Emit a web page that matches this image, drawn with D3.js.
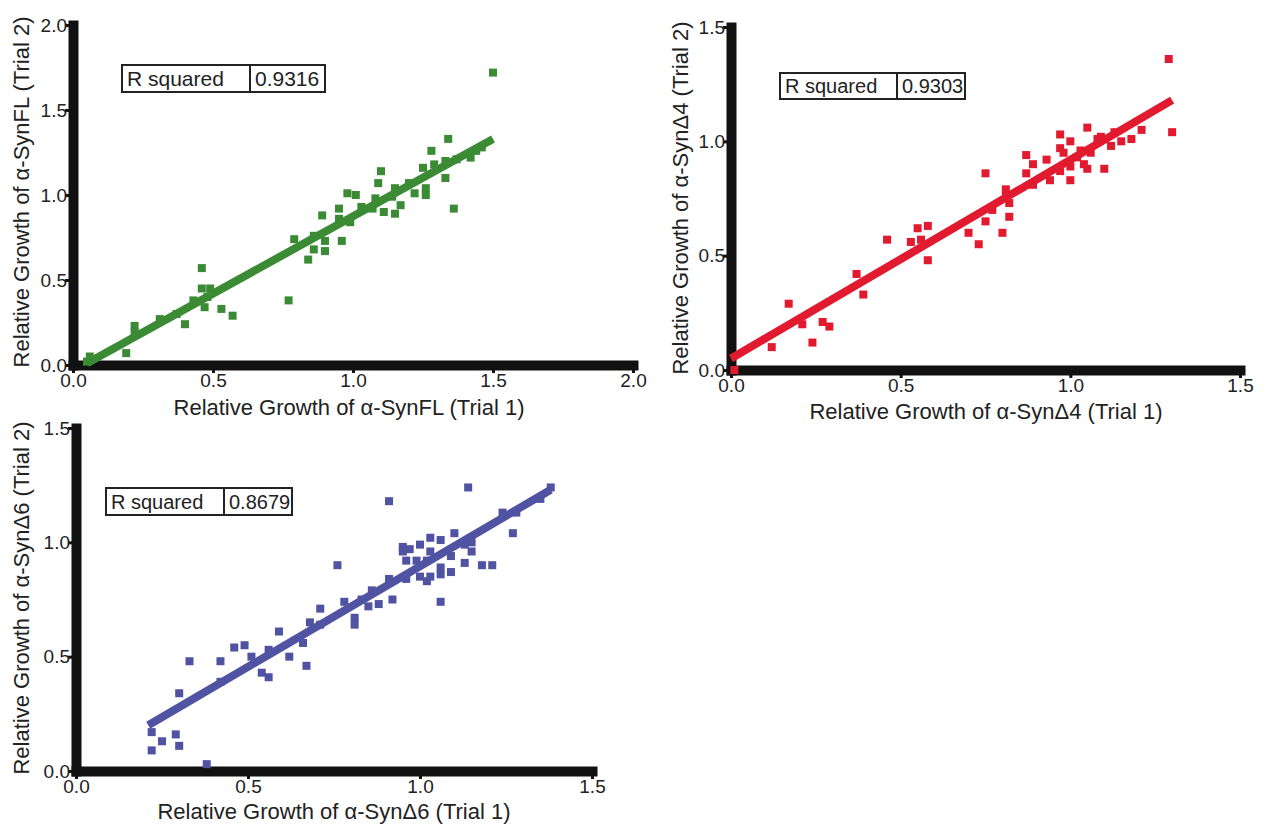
<!DOCTYPE html>
<html>
<head>
<meta charset="utf-8">
<script src="https://cdn.jsdelivr.net/npm/d3@7"></script>
<style>
  html, body { margin: 0; padding: 0; background: #fff; }
  svg { display: block; font-family: "Liberation Sans", Arial, sans-serif; }
</style>
</head>
<body>
<svg id="chart" width="1265" height="826"></svg>
<script>
// ---------- DATA ----------
const ticksFL = [0, 0.5, 1.0, 1.5, 2.0];
const ticksD = [0, 0.5, 1.0, 1.5];

const flX = [1.50,1.34,1.28,1.10,1.33,1.09,0.98,1.01,1.22,1.26,1.36,1.26,0.95,0.89,1.11,1.15,1.17,1.07,1.03,0.99,0.96,0.90,0.90,0.86,0.84,0.79,0.77,0.46,0.46,0.49,0.47,0.53,0.57,0.43,0.40,0.37,0.31,0.22,0.22,0.19,0.06,0.05,1.15,1.20,1.25,1.29,1.33,1.37,1.42,1.44,1.46,1.08,1.14,0.95,0.86,0.48];
const flY = [1.72,1.33,1.26,1.14,1.10,1.07,1.01,1.00,1.01,1.00,0.92,1.04,0.92,0.88,0.90,0.89,0.94,0.92,0.93,0.84,0.73,0.73,0.67,0.68,0.62,0.74,0.38,0.57,0.45,0.45,0.34,0.33,0.29,0.38,0.24,0.30,0.27,0.23,0.19,0.07,0.05,0.02,1.04,1.07,1.16,1.18,1.20,1.21,1.22,1.26,1.28,0.98,0.99,0.86,0.76,0.40];
const flFitX = [0.05, 1.50];
const flFitY = [0.01, 1.33];
const flR2 = "0.9316";

const d4X = [1.29,1.30,1.21,1.18,1.15,1.12,1.10,1.05,1.05,0.97,0.97,1.00,1.00,1.00,0.97,0.94,0.93,0.89,0.87,0.87,0.89,0.75,0.81,0.82,0.82,0.80,0.75,0.70,0.73,0.58,0.55,0.53,0.56,0.58,0.46,0.37,0.39,0.17,0.21,0.27,0.29,0.24,0.12,0.01,1.08,1.09,1.13,1.03,1.06,1.02,1.04,0.98,0.77,0.81];
const d4Y = [1.36,1.04,1.05,1.01,1.00,0.98,0.88,1.06,0.88,1.03,0.97,1.00,0.83,0.89,0.87,0.83,0.92,0.90,0.94,0.86,0.81,0.86,0.79,0.73,0.67,0.60,0.65,0.60,0.55,0.63,0.62,0.56,0.57,0.48,0.57,0.42,0.33,0.29,0.20,0.21,0.19,0.12,0.10,0.00,1.01,1.02,1.04,0.96,0.95,0.93,0.90,0.95,0.70,0.76];
const d4FitX = [0.00, 1.30];
const d4FitY = [0.05, 1.18];
const d4R2 = "0.9303";

const d6X = [1.14,0.91,1.38,1.35,1.28,1.24,1.27,1.10,1.21,1.18,1.13,1.15,1.15,1.13,1.09,1.06,1.06,1.06,1.09,1.06,1.03,1.00,0.97,0.95,0.95,0.96,0.99,1.03,1.03,1.02,1.00,0.96,0.91,0.92,0.88,0.86,0.85,0.83,0.78,0.76,0.81,0.81,0.71,0.68,0.71,0.66,0.67,0.59,0.62,0.56,0.51,0.49,0.46,0.54,0.56,0.42,0.33,0.42,0.30,0.22,0.22,0.25,0.29,0.30,0.38,1.02];
const d6Y = [1.24,1.18,1.24,1.19,1.13,1.13,1.04,1.04,0.90,0.90,0.91,0.96,1.00,0.99,0.87,0.89,0.86,0.74,0.94,1.01,1.02,0.99,0.97,0.98,0.96,0.92,0.92,0.96,0.85,0.83,0.85,0.84,0.84,0.75,0.73,0.79,0.72,0.75,0.74,0.90,0.67,0.64,0.71,0.65,0.64,0.56,0.46,0.61,0.50,0.53,0.50,0.55,0.54,0.43,0.41,0.48,0.48,0.39,0.34,0.17,0.09,0.13,0.16,0.11,0.03,0.92];
const d6FitX = [0.21, 1.38];
const d6FitY = [0.20, 1.23];
const d6R2 = "0.8679";

const xTitles = ["Relative Growth of \u03b1-SynFL (Trial 1)", "Relative Growth of \u03b1-Syn\u03944 (Trial 1)", "Relative Growth of \u03b1-Syn\u03946 (Trial 1)"];
const yTitles = ["Relative Growth of \u03b1-SynFL (Trial 2)", "Relative Growth of \u03b1-Syn\u03944 (Trial 2)", "Relative Growth of \u03b1-Syn\u03946 (Trial 2)"];

// ---------- LAYOUT ----------
const panels = [
  { xs: flX, ys: flY, fx: flFitX, fy: flFitY, r2: flR2, ticks: ticksFL, max: 2.0,
    color: "#3b8b35", xr: [73, 633], yr: [365, 25],
    box: { x: 122, y: 65, w: 203, h: 27, div: 250, fs: 21 },
    xt: [349, 409], yt: [23, 192], xTitle: xTitles[0], yTitle: yTitles[0] },
  { xs: d4X, ys: d4Y, fx: d4FitX, fy: d4FitY, r2: d4R2, ticks: ticksD, max: 1.5,
    color: "#e11a2f", xr: [731, 1240], yr: [370, 27],
    box: { x: 780, y: 73, w: 185, h: 26, div: 897, fs: 20 },
    xt: [986, 413], yt: [682, 198], xTitle: xTitles[1], yTitle: yTitles[1] },
  { xs: d6X, ys: d6Y, fx: d6FitX, fy: d6FitY, r2: d6R2, ticks: ticksD, max: 1.5,
    color: "#4f53a1", xr: [76, 592], yr: [771, 428],
    box: { x: 106, y: 488, w: 186, h: 27, div: 224, fs: 20 },
    xt: [334, 813], yt: [23, 598], xTitle: xTitles[2], yTitle: yTitles[2] }
];

const svg = d3.select("#chart");
const fmt = d3.format(".1f");
const MS = 8; // marker size

panels.forEach(p => {
  const x = d3.scaleLinear().domain([0, p.max]).range(p.xr);
  const y = d3.scaleLinear().domain([0, p.max]).range(p.yr);
  const g = svg.append("g");

  const xAxis = d3.axisBottom(x).tickValues(p.ticks).tickFormat(fmt)
    .tickSizeInner(8).tickSizeOuter(0).tickPadding(1);
  const yAxis = d3.axisLeft(y).tickValues(p.ticks).tickFormat(fmt)
    .tickSizeInner(8).tickSizeOuter(0).tickPadding(-2);

  const gx = g.append("g").attr("transform", `translate(0,${y(0)})`).call(xAxis);
  const gy = g.append("g").attr("transform", `translate(${x(0)},0)`).call(yAxis);
  [gx, gy].forEach(a => {
    a.select(".domain").attr("stroke", "#111").attr("stroke-width", 10)
      .attr("stroke-linecap", "square");
    a.selectAll(".tick line").attr("stroke", "#111").attr("stroke-width", 3);
    a.selectAll(".tick text").attr("fill", "#222").style("font-size", "19px")
      .style("font-family", "'Liberation Sans', Arial, sans-serif");
  });

  // points
  const pts = p.xs.map((v, i) => [v, p.ys[i]]);
  g.append("g").selectAll("rect").data(pts).join("rect")
    .attr("x", d => x(d[0]) - MS / 2)
    .attr("y", d => y(d[1]) - MS / 2)
    .attr("width", MS).attr("height", MS)
    .attr("fill", p.color);

  // fit line
  g.append("line")
    .attr("x1", x(p.fx[0])).attr("y1", y(p.fy[0]))
    .attr("x2", x(p.fx[1])).attr("y2", y(p.fy[1]))
    .attr("stroke", p.color).attr("stroke-width", 8);

  // titles
  g.append("text").attr("x", p.xt[0]).attr("y", p.xt[1])
    .attr("text-anchor", "middle").attr("dominant-baseline", "middle")
    .attr("fill", "#222").style("font-size", "22px").text(p.xTitle);
  g.append("text")
    .attr("transform", `translate(${p.yt[0]},${p.yt[1]}) rotate(-90)`)
    .attr("text-anchor", "middle").attr("dominant-baseline", "middle")
    .attr("fill", "#222").style("font-size", "22px").text(p.yTitle);

  // R squared box
  const b = p.box;
  const bg = g.append("g");
  bg.append("rect").attr("x", b.x).attr("y", b.y).attr("width", b.w).attr("height", b.h)
    .attr("fill", "#fff").attr("stroke", "#222").attr("stroke-width", 2);
  bg.append("line").attr("x1", b.div).attr("x2", b.div).attr("y1", b.y).attr("y2", b.y + b.h)
    .attr("stroke", "#222").attr("stroke-width", 2);
  bg.append("text").attr("x", b.x + 5).attr("y", b.y + b.h / 2)
    .attr("dominant-baseline", "central").attr("fill", "#222")
    .style("font-size", b.fs + "px").text("R squared");
  bg.append("text").attr("x", b.div + 5).attr("y", b.y + b.h / 2)
    .attr("dominant-baseline", "central").attr("fill", "#222")
    .style("font-size", b.fs + "px").text(p.r2);
});
</script>
</body>
</html>
